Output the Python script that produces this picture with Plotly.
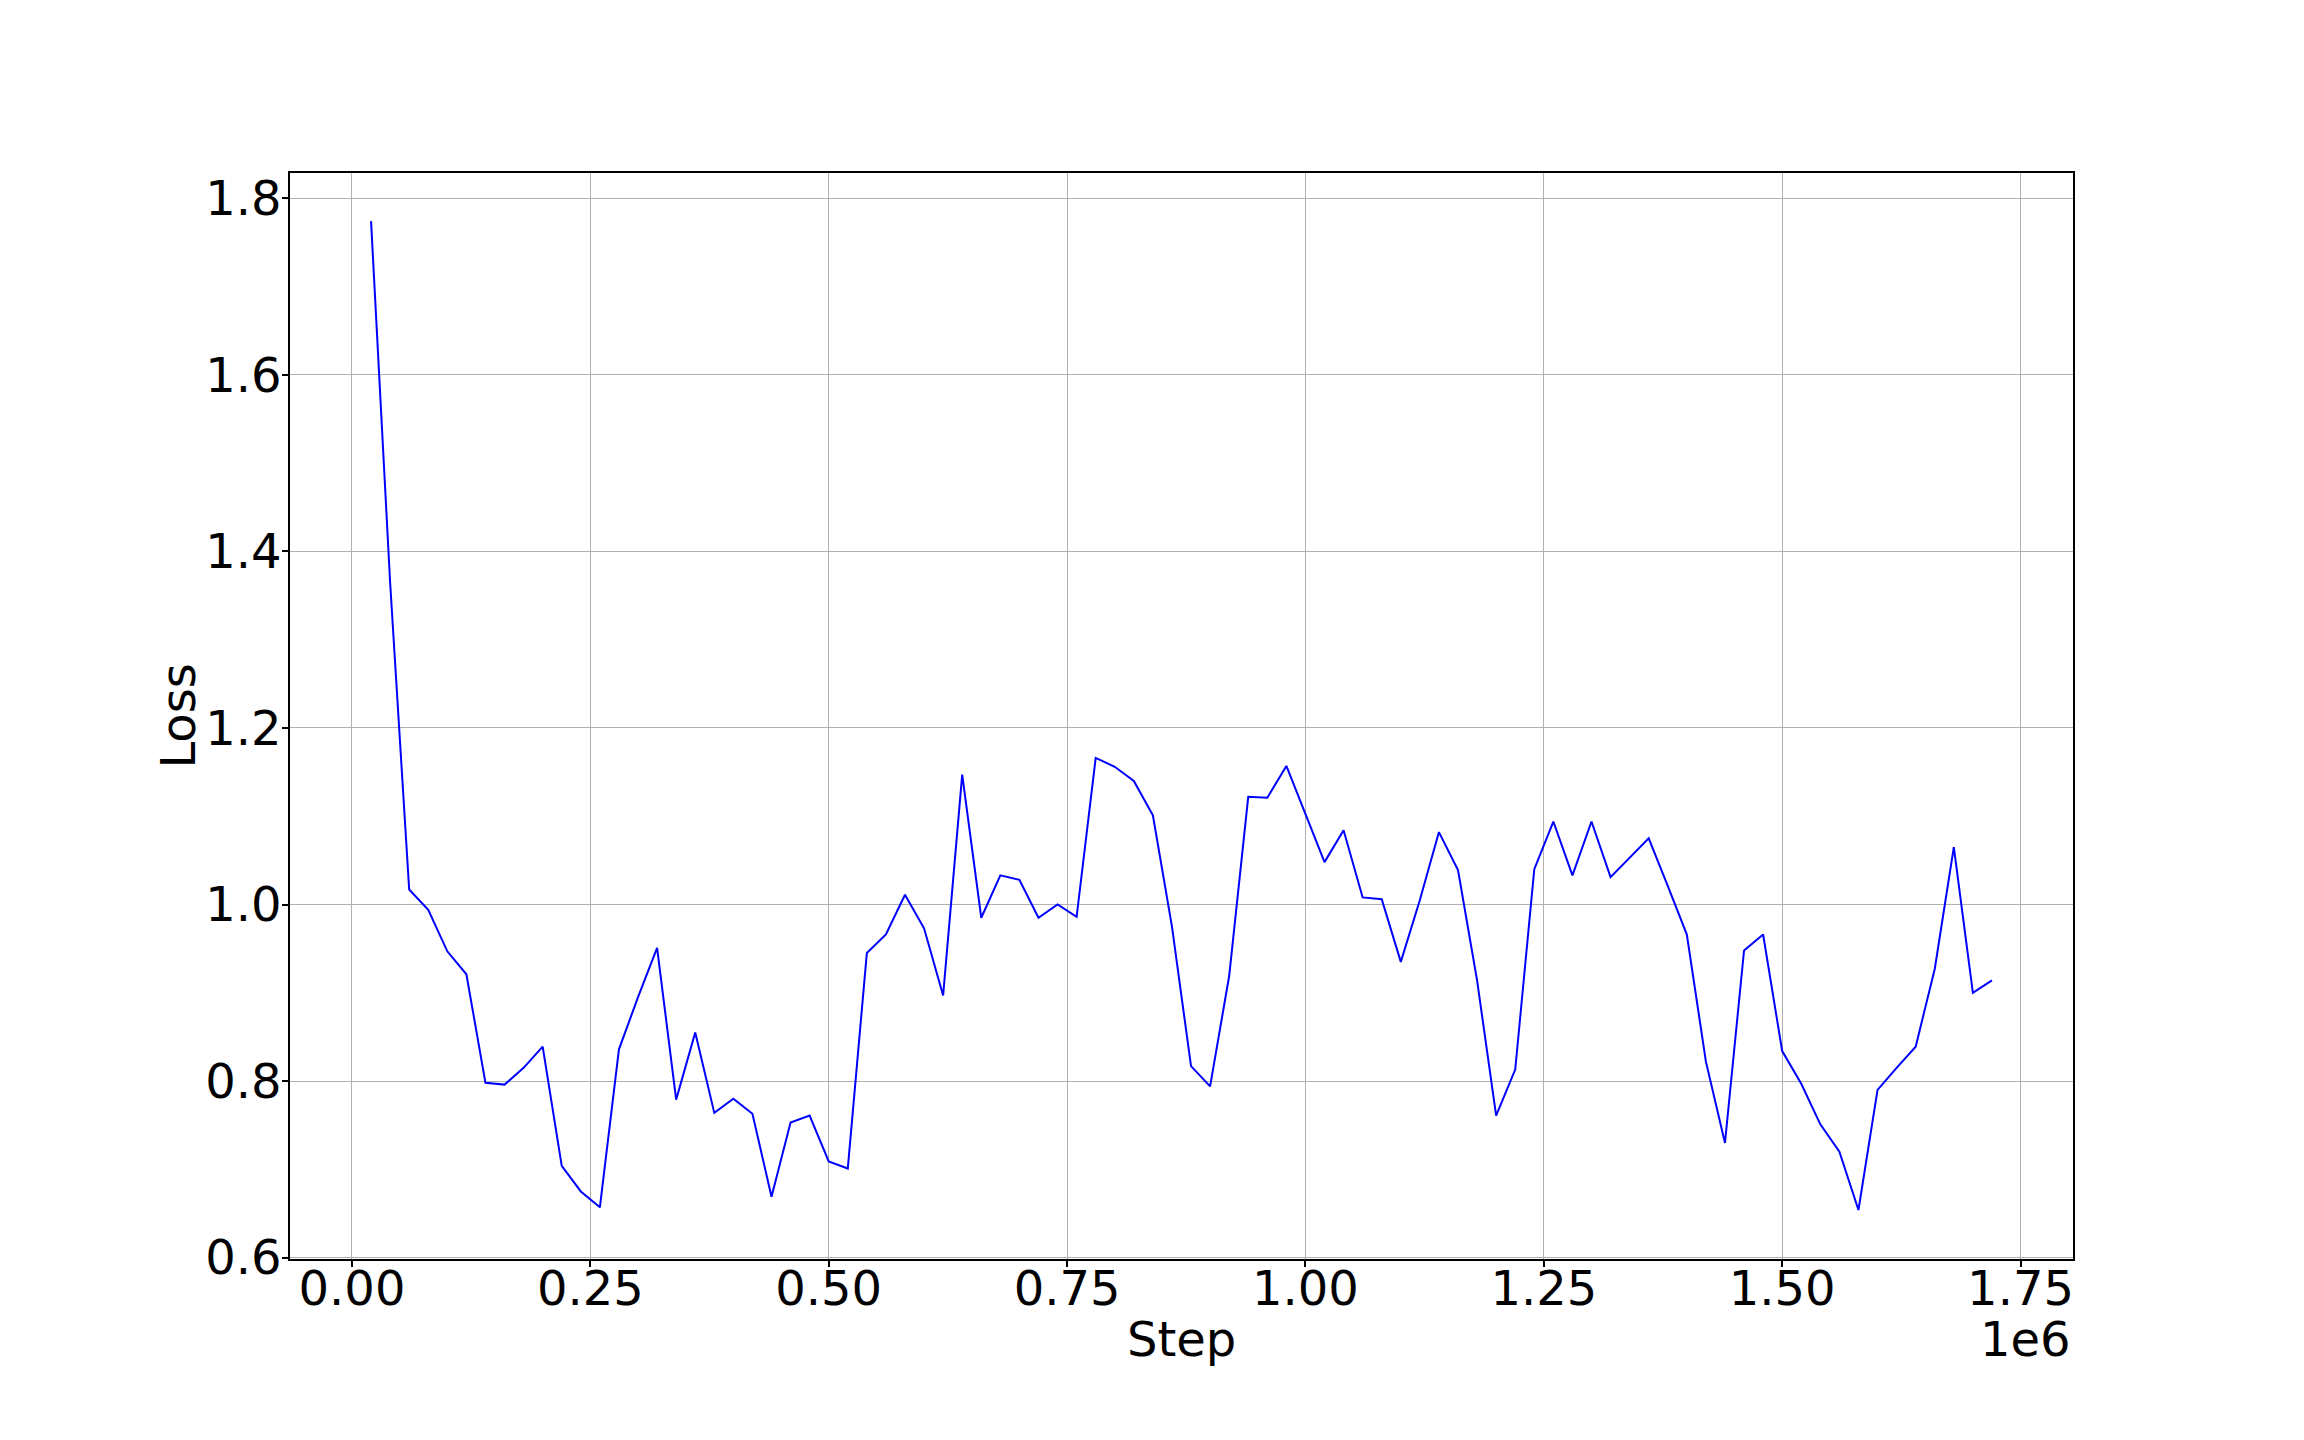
import plotly.graph_objects as go

steps = [20000 * k for k in range(1, 87)]
loss = [
    1.774, 1.365, 1.017, 0.994, 0.947, 0.921, 0.798, 0.796, 0.815, 0.839,
    0.704, 0.675, 0.657, 0.836, 0.895, 0.951, 0.779, 0.855, 0.764, 0.780,
    0.763, 0.669, 0.753, 0.761, 0.709, 0.701, 0.945, 0.966, 1.011, 0.973,
    0.897, 1.147, 0.985, 1.033, 1.028, 0.985, 1.000, 0.986, 1.166, 1.156,
    1.140, 1.101, 0.975, 0.817, 0.794, 0.919, 1.122, 1.121, 1.157, 1.102,
    1.048, 1.084, 1.008, 1.006, 0.935, 1.005, 1.082, 1.039, 0.914, 0.761,
    0.813, 1.040, 1.094, 1.033, 1.094, 1.031, 1.053, 1.075, 1.021, 0.966,
    0.822, 0.730, 0.948, 0.966, 0.834, 0.797, 0.751, 0.720, 0.654, 0.790,
    0.815, 0.839, 0.927, 1.065, 0.900, 0.914,
]
x_tickvals = [0, 250000, 500000, 750000, 1000000, 1250000, 1500000, 1750000]
x_ticktext = ["0.00", "0.25", "0.50", "0.75", "1.00", "1.25", "1.50", "1.75"]
y_tickvals = [0.6, 0.8, 1.0, 1.2, 1.4, 1.6, 1.8]
y_ticktext = ["0.6", "0.8", "1.0", "1.2", "1.4", "1.6", "1.8"]
x_label = "Step"
y_label = "Loss"
offset_text = "1e6"

FONT = "DejaVu Sans"
FS = 48

# the page body has an 8px margin, so the figure is drawn 8px in from the corner
W, H = 2288, 1424
L, T = 281.5, 165.4
R = W - 2065.3
B = H - 1251.3
ph = H - T - B
pw = W - L - R

fig = go.Figure()
fig.add_trace(go.Scatter(x=steps, y=loss, mode="lines",
                         line=dict(color="#0000ff", width=2), showlegend=False))

axis_common = dict(
    showgrid=True, gridcolor="#b0b0b0", gridwidth=1.3,
    showline=True, linecolor="black", linewidth=1.5, mirror=True,
    ticks="outside", ticklen=6, tickwidth=1.5, tickcolor="black",
    zeroline=False,
    tickfont=dict(family=FONT, size=FS, color="black"),
)

fig.update_xaxes(range=[-65000, 1805000], tickmode="array",
                 tickvals=x_tickvals, ticktext=x_ticktext,
                 ticklabelstandoff=-19, **axis_common)
fig.update_yaxes(range=[0.5985, 1.8285], tickmode="array",
                 tickvals=y_tickvals, ticktext=y_ticktext,
                 ticklabelstandoff=-9, **axis_common)

label_y = -(1331 - (H - B)) / ph
fig.add_annotation(text=x_label, xref="paper", yref="paper",
                   x=0.5, y=label_y, xanchor="center", yanchor="middle",
                   showarrow=False, font=dict(family=FONT, size=FS, color="black"))
fig.add_annotation(text=offset_text, xref="paper", yref="paper",
                   x=1.0, y=label_y, xanchor="right", yanchor="middle",
                   showarrow=False, font=dict(family=FONT, size=FS, color="black"))
fig.add_annotation(text=y_label, xref="paper", yref="paper",
                   x=(169 - L) / pw, y=0.5, xanchor="center", yanchor="middle",
                   textangle=-90, showarrow=False,
                   font=dict(family=FONT, size=FS, color="black"))

fig.update_layout(
    width=W, height=H,
    margin=dict(l=L, r=R, t=T, b=B, pad=0),
    paper_bgcolor="white", plot_bgcolor="white",
    font=dict(family=FONT, size=FS, color="black"),
)

fig.write_html("out.html")
